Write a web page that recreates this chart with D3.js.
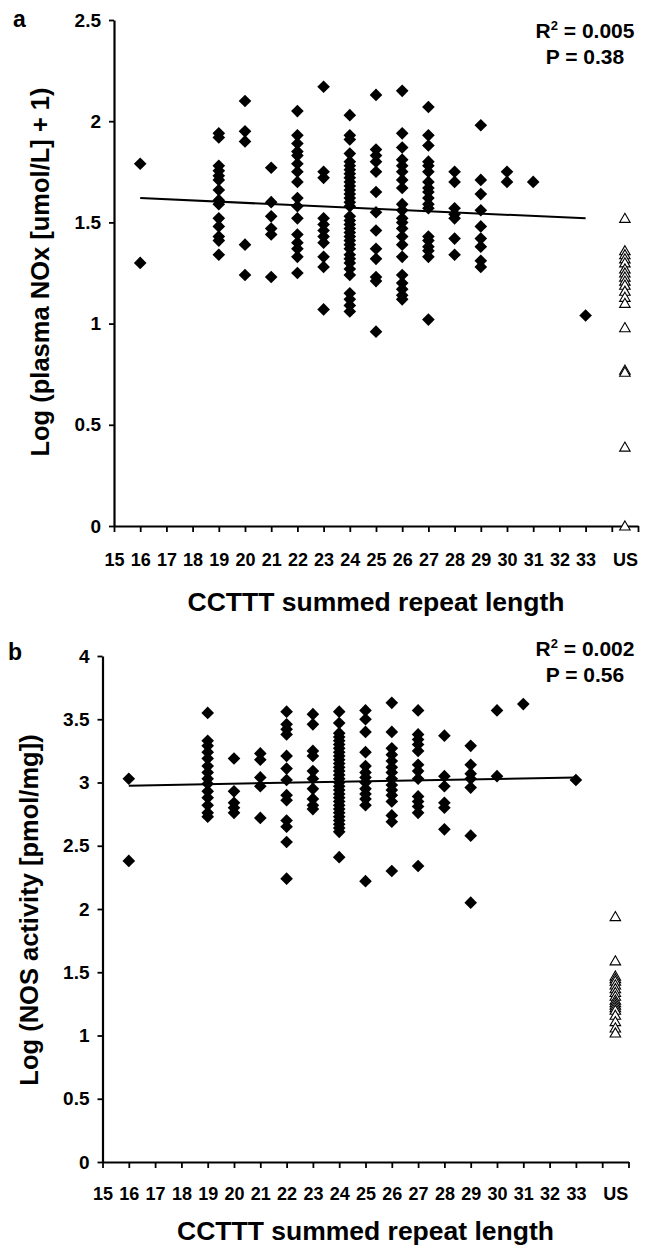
<!DOCTYPE html>
<html>
<head>
<meta charset="UTF-8">
<title>CCTTT repeat length vs NOx / NOS</title>
<script src="https://d3js.org/d3.v7.min.js"></script>
<style>
  body { margin: 0; background: #fff; }
  svg { display: block; }
  text { font-family: "Liberation Sans", Arial, sans-serif; font-weight: bold; fill: #000; }
</style>
</head>
<body>
<div id="chart"></div>
<script>
// x categories: summed repeat length 15..33, then the unsized (US) group
var repeatTicks = d3.range(15, 34);
var usLabel = "US";

// panel a: log(plasma NOx + 1), one list per repeat length
var noxCols = [
  [16, [1.79, 1.30]],
  [19, [1.94, 1.92, 1.78, 1.755, 1.73, 1.71, 1.66, 1.61, 1.59, 1.52, 1.48, 1.43, 1.41, 1.34]],
  [20, [2.10, 1.95, 1.90, 1.39, 1.24]],
  [21, [1.77, 1.60, 1.53, 1.47, 1.44, 1.23]],
  [22, [2.05, 1.93, 1.89, 1.85, 1.83, 1.79, 1.75, 1.70, 1.62, 1.58, 1.52, 1.44, 1.40, 1.37, 1.33, 1.25]],
  [23, [2.17, 1.75, 1.72, 1.52, 1.49, 1.46, 1.43, 1.40, 1.33, 1.28, 1.07]],
  [24, [2.03, 1.93, 1.91, 1.84, 1.80, 1.78, 1.76, 1.74, 1.72, 1.70, 1.68, 1.66, 1.64, 1.62, 1.60, 1.58,
        1.53, 1.51, 1.49, 1.47, 1.45, 1.43, 1.41, 1.39, 1.37, 1.34, 1.32, 1.30, 1.27, 1.24, 1.15, 1.12, 1.09, 1.06]],
  [25, [2.13, 1.86, 1.83, 1.80, 1.75, 1.65, 1.55, 1.46, 1.37, 1.32, 1.23, 1.21, 0.96]],
  [26, [2.15, 1.94, 1.87, 1.81, 1.78, 1.75, 1.71, 1.67, 1.59, 1.56, 1.52, 1.50, 1.47, 1.43, 1.39, 1.33, 1.24, 1.20, 1.17, 1.14, 1.12]],
  [27, [2.07, 1.93, 1.88, 1.80, 1.78, 1.75, 1.70, 1.67, 1.65, 1.62, 1.59, 1.57, 1.43, 1.41, 1.38, 1.36, 1.33, 1.02]],
  [28, [1.75, 1.70, 1.57, 1.54, 1.52, 1.42, 1.34]],
  [29, [1.98, 1.71, 1.64, 1.56, 1.48, 1.42, 1.38, 1.31, 1.28]],
  [30, [1.75, 1.70]],
  [31, [1.70]],
  [33, [1.04]]
];
var noxUS = [1.52, 1.36, 1.34, 1.32, 1.30, 1.27, 1.25, 1.23, 1.21, 1.19, 1.16, 1.13, 1.10, 0.98, 0.77, 0.76, 0.39, 0.0];
var noxTrend = [[16, 1.62], [33, 1.52]];
var noxTicks = [0, 0.5, 1, 1.5, 2, 2.5];

// panel b: log(NOS activity)
var nosCols = [
  [16, [3.03, 2.38]],
  [19, [3.55, 3.33, 3.29, 3.24, 3.19, 3.13, 3.08, 3.03, 2.99, 2.93, 2.88, 2.82, 2.76, 2.73]],
  [20, [3.19, 2.93, 2.84, 2.80, 2.76]],
  [21, [3.23, 3.18, 3.04, 2.97, 2.72]],
  [22, [3.56, 3.46, 3.42, 3.38, 3.21, 3.11, 3.02, 2.90, 2.86, 2.70, 2.65, 2.53, 2.24]],
  [23, [3.54, 3.46, 3.25, 3.21, 3.09, 3.03, 2.95, 2.87, 2.82, 2.79]],
  [24, [3.56, 3.47, 3.39, 3.36, 3.33, 3.30, 3.27, 3.24, 3.21, 3.18, 3.15, 3.12, 3.09, 3.06, 3.03, 3.00,
        2.97, 2.94, 2.91, 2.88, 2.85, 2.82, 2.79, 2.76, 2.73, 2.70, 2.67, 2.64, 2.61, 2.41]],
  [25, [3.57, 3.50, 3.40, 3.24, 3.13, 3.08, 3.04, 3.00, 2.95, 2.91, 2.87, 2.82, 2.22]],
  [26, [3.63, 3.40, 3.27, 3.22, 3.17, 3.12, 3.08, 3.03, 2.98, 2.94, 2.90, 2.85, 2.74, 2.69, 2.30]],
  [27, [3.57, 3.38, 3.34, 3.30, 3.25, 3.14, 3.09, 3.03, 2.89, 2.85, 2.81, 2.76, 2.34]],
  [28, [3.37, 3.05, 2.97, 2.84, 2.80, 2.63]],
  [29, [3.29, 3.14, 3.07, 3.03, 2.96, 2.58, 2.05]],
  [30, [3.57, 3.05]],
  [31, [3.62]],
  [33, [3.02]]
];
var nosUS = [1.94, 1.59, 1.47, 1.45, 1.43, 1.40, 1.37, 1.34, 1.31, 1.28, 1.26, 1.24, 1.22, 1.20, 1.16, 1.11, 1.06, 1.02];
var nosTrend = [[16, 2.975], [33, 3.04]];
var nosTicks = [0, 0.5, 1, 1.5, 2, 2.5, 3, 3.5, 4];

var svg = d3.select("#chart").append("svg")
  .attr("width", 653)
  .attr("height", 1249);

var diamond = d3.symbol(d3.symbolSquare, 80)();
var triangle = d3.symbol(d3.symbolTriangle, 48)();

function drawPanel(p) {
  var x = d3.scaleLinear().domain([15, 35]).range([p.left, p.right]);
  var y = d3.scaleLinear().domain([0, d3.max(p.yTicks)]).range([p.bottom, p.top]);
  var g = svg.append("g");

  // points flattened from the per-length lists
  var pts = [];
  p.cols.forEach(function(c) {
    c[1].forEach(function(v) { pts.push({x: c[0], y: v}); });
  });

  g.append("g")
    .attr("transform", "translate(0," + p.bottom + ")")
    .call(d3.axisBottom(x).tickValues(d3.range(15, 36)).tickSize(6).tickSizeOuter(0)
      .tickPadding(p.xPad)
      .tickFormat(function(d) { return repeatTicks.indexOf(d) >= 0 ? d : ""; }))
    .call(styleAxis);

  // US label sits between the last two ticks
  g.append("g")
    .attr("transform", "translate(0," + p.bottom + ")")
    .call(d3.axisBottom(x).tickValues([34.5]).tickSize(0).tickPadding(p.xPad + 6)
      .tickFormat(function() { return usLabel; }))
    .call(function(a) { a.select(".domain").remove(); a.selectAll("text").attr("font-size", 18); });

  g.append("g")
    .attr("transform", "translate(" + p.left + ",0)")
    .call(d3.axisLeft(y).tickValues(p.yTicks).tickSize(5).tickSizeOuter(0).tickPadding(8)
      .tickFormat(function(d) { return d; }))
    .call(styleAxis)
    .call(function(a) { a.selectAll("text").attr("font-size", 19); });

  g.append("path")
    .datum(p.trend)
    .attr("fill", "none")
    .attr("stroke", "#000")
    .attr("stroke-width", 2)
    .attr("d", d3.line().x(function(d) { return x(d[0]); }).y(function(d) { return y(d[1]); }));

  g.append("g").selectAll("path")
    .data(pts)
    .enter().append("path")
      .attr("d", diamond)
      .attr("transform", function(d) { return "translate(" + x(d.x) + "," + y(d.y) + ") rotate(45)"; })
      .attr("fill", "#000");

  g.append("g").selectAll("path")
    .data(p.us)
    .enter().append("path")
      .attr("d", triangle)
      .attr("transform", function(d) { return "translate(" + x(34.5) + "," + (y(d) + 1) + ")"; })
      .attr("fill", "#fff")
      .attr("stroke", "#000")
      .attr("stroke-width", 1.1);

  // axis titles
  g.append("text")
    .attr("x", (p.left + p.right) / 2)
    .attr("y", p.titleY)
    .attr("text-anchor", "middle")
    .attr("font-size", 26.5)
    .text("CCTTT summed repeat length");

  g.append("text")
    .attr("transform", "translate(" + p.yTitleX + "," + p.yTitleMid + ") rotate(-90)")
    .attr("text-anchor", "middle")
    .attr("font-size", 25.5)
    .text(p.yTitle);

  g.append("text")
    .attr("x", p.letterX)
    .attr("y", p.letterY)
    .attr("font-size", 23)
    .text(p.letter);

  // stats
  var r2 = g.append("text")
    .attr("x", 585)
    .attr("y", p.statY)
    .attr("text-anchor", "middle")
    .attr("font-size", 21);
  r2.append("tspan").text("R");
  r2.append("tspan").attr("font-size", 13).attr("dy", -8).text("2");
  r2.append("tspan").attr("dy", 8).text(" = " + p.r2);

  g.append("text")
    .attr("x", 585)
    .attr("y", p.statY + 26)
    .attr("text-anchor", "middle")
    .attr("font-size", 21)
    .text("P = " + p.pval);
}

function styleAxis(a) {
  a.select(".domain").attr("stroke", "#000").attr("stroke-width", 2.2);
  a.selectAll(".tick line").attr("stroke", "#000").attr("stroke-width", 1.8);
  a.selectAll("text").attr("font-size", 18).attr("fill", "#000");
}

drawPanel({
  cols: noxCols, us: noxUS, trend: noxTrend, yTicks: noxTicks,
  left: 114, right: 638, top: 20, bottom: 526, xPad: 21,
  titleY: 611, yTitleX: 49, yTitleMid: 272,
  yTitle: "Log (plasma NOx [umol/L] + 1)",
  letter: "a", letterX: 13, letterY: 27,
  statY: 38, r2: "0.005", pval: "0.38"
});

drawPanel({
  cols: nosCols, us: nosUS, trend: nosTrend, yTicks: nosTicks,
  left: 102.5, right: 628.5, top: 656, bottom: 1162, xPad: 19,
  titleY: 1240, yTitleX: 38, yTitleMid: 910,
  yTitle: "Log (NOS activity [pmol/mg])",
  letter: "b", letterX: 8, letterY: 660,
  statY: 656, r2: "0.002", pval: "0.56"
});
</script>
</body>
</html>
